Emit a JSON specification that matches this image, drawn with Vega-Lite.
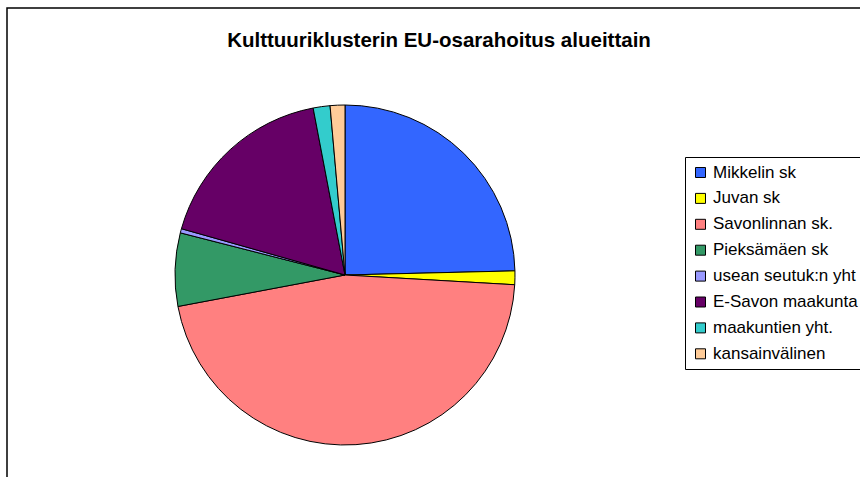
{
  "$schema": "https://vega.github.io/schema/vega-lite/v6.json",
  "width": 860,
  "height": 480,
  "autosize": {"type": "none"},
  "padding": {"left": 7, "top": 8, "right": 0, "bottom": 0},
  "background": "white",
  "title": {
    "text": "Kulttuuriklusterin EU-osarahoitus alueittain",
    "font": "Liberation Sans",
    "fontSize": 20.5,
    "fontWeight": "bold",
    "color": "black",
    "anchor": "middle",
    "frame": "group",
    "offset": -43,
    "dx": 2
  },
  "view": {"stroke": "black", "strokeWidth": 1.5, "fill": "white"},
  "data": {
    "values": [
      {"i": 1, "alue": "Mikkelin sk", "osuus": 24.6},
      {"i": 2, "alue": "Juvan sk", "osuus": 1.3},
      {"i": 3, "alue": "Savonlinnan sk.", "osuus": 46.1},
      {"i": 4, "alue": "Pieksämäen sk", "osuus": 6.95},
      {"i": 5, "alue": "usean seutuk:n yht", "osuus": 0.4},
      {"i": 6, "alue": "E-Savon maakunta", "osuus": 17.6},
      {"i": 7, "alue": "maakuntien yht.", "osuus": 1.6},
      {"i": 8, "alue": "kansainvälinen", "osuus": 1.4}
    ]
  },
  "mark": {"type": "arc", "radius": 170, "stroke": "black", "strokeWidth": 1, "x": 338, "y": 267},
  "encoding": {
    "theta": {"field": "osuus", "type": "quantitative", "stack": true},
    "order": {"field": "i", "type": "quantitative"},
    "color": {
      "field": "alue",
      "type": "nominal",
      "sort": null,
      "scale": {
        "domain": ["Mikkelin sk", "Juvan sk", "Savonlinnan sk.", "Pieksämäen sk", "usean seutuk:n yht", "E-Savon maakunta", "maakuntien yht.", "kansainvälinen"],
        "range": ["#3366FF", "#FFFF00", "#FF8080", "#339966", "#9999FF", "#660066", "#33CCCC", "#FFCC99"]
      },
      "legend": {
        "orient": "none",
        "legendX": 678,
        "legendY": 149,
        "title": null,
        "strokeColor": "black",
        "fillColor": "white",
        "padding": 7,
        "rowPadding": 7.9,
        "labelFontSize": 17,
        "labelFont": "Liberation Sans",
        "labelColor": "black",
        "labelLimit": 0,
        "labelOffset": 4,
        "symbolType": "square",
        "symbolSize": 100,
        "symbolStrokeColor": "black",
        "symbolStrokeWidth": 1
      }
    }
  }
}
